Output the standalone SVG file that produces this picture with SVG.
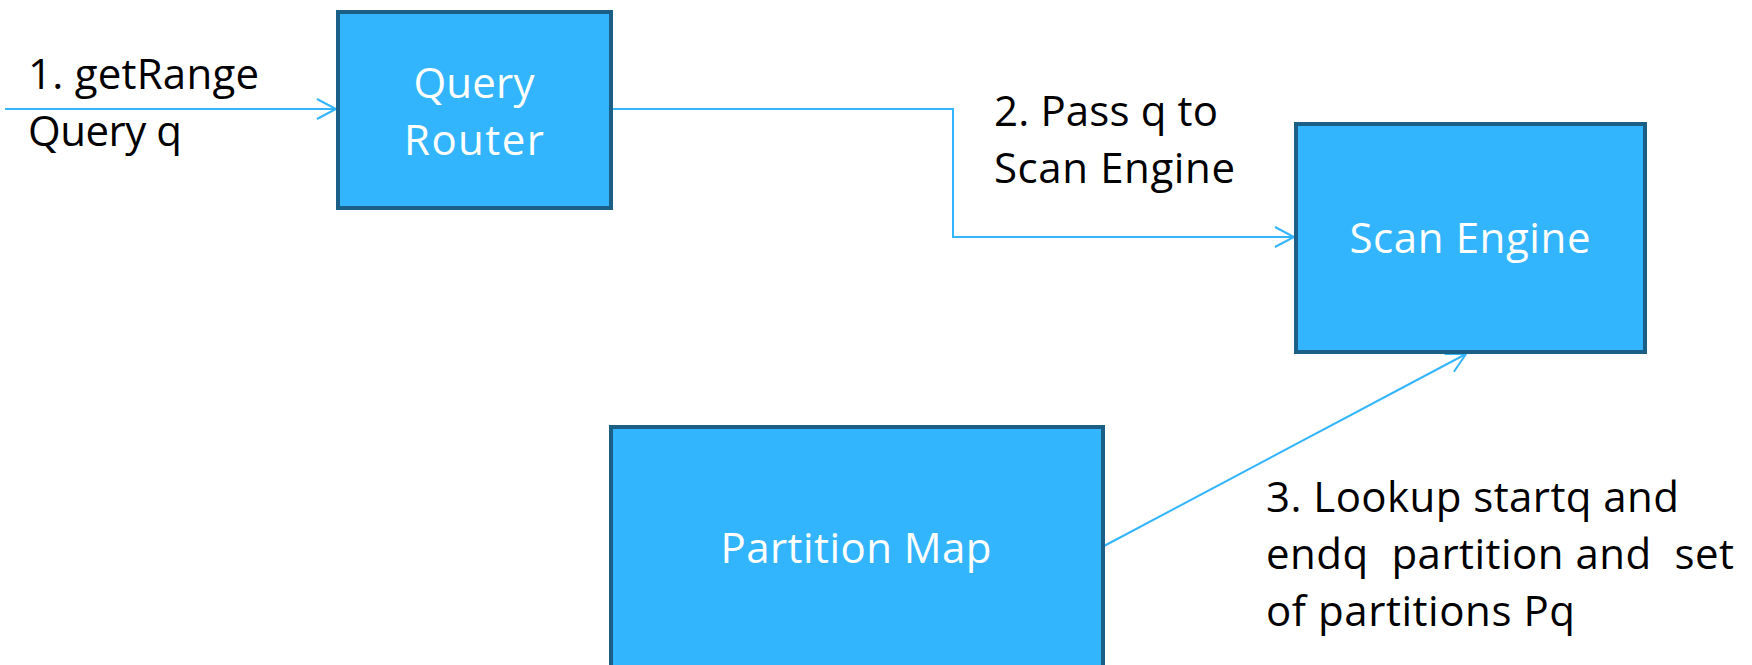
<svg xmlns="http://www.w3.org/2000/svg" width="1752" height="665" viewBox="0 0 1752 665">
  <style>
    .box { fill: #33b5fd; stroke: #1b5e86; stroke-width: 4; }
    .conn { fill: none; stroke: #33b5fd; stroke-width: 2; }
    .label { font-family: "Open Sans", "Liberation Sans", sans-serif; font-size: 42px; fill: #000000; }
    .name { font-family: "Open Sans", "Liberation Sans", sans-serif; font-size: 42px; fill: #ffffff; text-anchor: middle; }
  </style>
  <defs>
    <marker id="open-arrow" markerUnits="userSpaceOnUse" markerWidth="24" markerHeight="24" refX="19" refY="10" orient="auto" overflow="visible">
      <path d="M0,0 L19,10 L0,20" fill="none" stroke="#33b5fd" stroke-width="2"/>
    </marker>
  </defs>
  <rect width="1752" height="665" fill="#ffffff"/>

  <!-- connectors -->
  <g id="connectors">
    <path class="conn" d="M5,109 L336,109" marker-end="url(#open-arrow)"/>
    <path class="conn" d="M612,109 L953,109 L953,237 L1294,237" marker-end="url(#open-arrow)"/>
    <path class="conn" d="M1104,546 L1466,354" marker-end="url(#open-arrow)"/>
  </g>

  <!-- connector labels -->
  <g id="label-get-range">
    <text class="label" x="28" y="89" textLength="231">1. getRange</text>
    <text class="label" x="28" y="146" textLength="154">Query q</text>
  </g>
  <g id="label-pass-q">
    <text class="label" x="994" y="126" textLength="224">2. Pass q to</text>
    <text class="label" x="994" y="183" textLength="241">Scan Engine</text>
  </g>
  <g id="label-lookup">
    <text class="label" x="1266" y="512" textLength="413">3. Lookup startq and</text>
    <text class="label" x="1266" y="569" textLength="468" xml:space="preserve">endq  partition and  set</text>
    <text class="label" x="1266" y="626" textLength="309">of partitions Pq</text>
  </g>

  <!-- nodes -->
  <g id="query-router">
    <rect class="box" x="338" y="12" width="273" height="196"/>
    <text class="name" x="474" y="98" textLength="121">Query</text>
    <text class="name" x="474" y="155" textLength="140">Router</text>
  </g>
  <g id="scan-engine">
    <rect class="box" x="1296" y="124" width="349" height="228"/>
    <text class="name" x="1470" y="253" textLength="241">Scan Engine</text>
  </g>
  <g id="partition-map">
    <rect class="box" x="611" y="427" width="492" height="260"/>
    <text class="name" x="856" y="563" textLength="271">Partition Map</text>
  </g>
</svg>
